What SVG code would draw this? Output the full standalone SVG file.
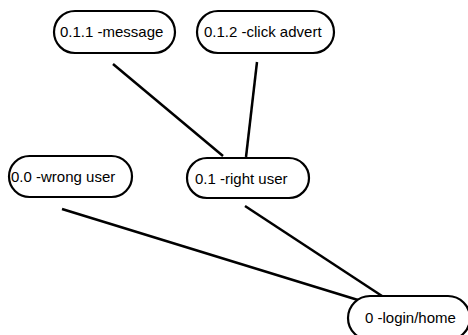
<svg xmlns="http://www.w3.org/2000/svg" width="468" height="335" viewBox="0 0 468 335">
<style>
.box{fill:#fff;stroke:#000;stroke-width:2.2}
.lbl{font-family:"Liberation Sans",Arial,sans-serif;font-size:15px;fill:#000}
.edge{stroke:#000;stroke-width:2.5;fill:none}
</style>
<rect width="468" height="335" fill="#fff"/>
<g id="connectors">
<line class="edge" x1="113" y1="64" x2="223" y2="156"/>
<line class="edge" x1="257" y1="62" x2="246" y2="157"/>
<line class="edge" x1="62" y1="209" x2="358" y2="300"/>
<line class="edge" x1="245" y1="206" x2="382" y2="296"/>
</g>
<g id="n011"><rect class="box" x="54" y="11" width="121" height="42" rx="21"/><text class="lbl" x="60" y="37">0.1.1 -message</text></g>
<g id="n012"><rect class="box" x="197" y="11" width="137" height="42" rx="21"/><text class="lbl" x="204" y="37">0.1.2 -click advert</text></g>
<g id="n00"><rect class="box" x="9" y="156" width="123" height="41" rx="20.5"/><text class="lbl" x="11" y="182">0.0 -wrong user</text></g>
<g id="n01"><rect class="box" x="187" y="158" width="122" height="40" rx="20"/><text class="lbl" x="195" y="184">0.1 -right user</text></g>
<g id="n0"><rect class="box" x="348" y="296" width="122" height="44" rx="22"/><text class="lbl" x="365" y="323">0 -login/home</text></g>
</svg>
